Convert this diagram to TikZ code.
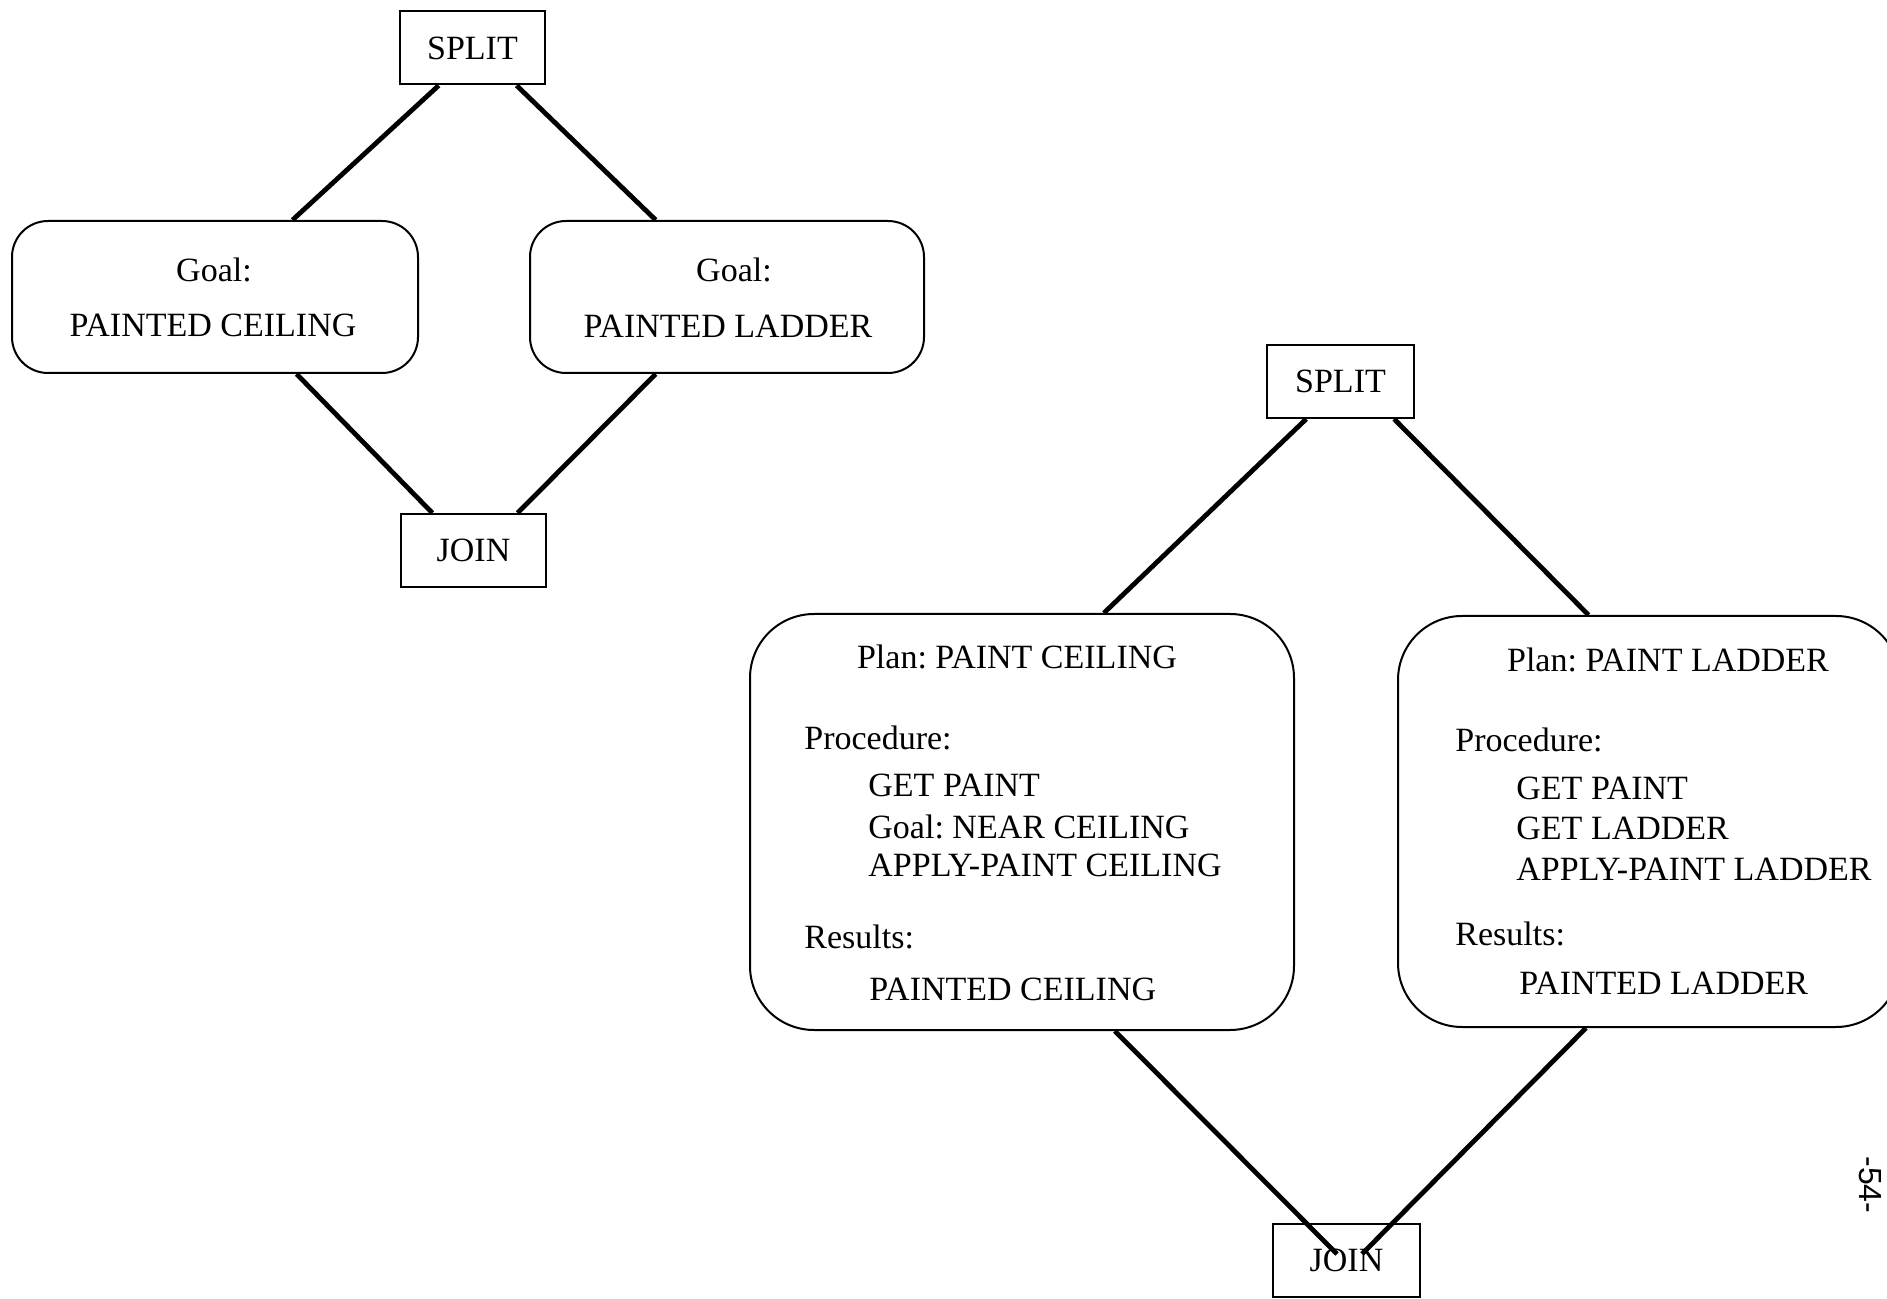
\documentclass[tikz,border=0pt]{standalone}
\usepackage{fontspec}
\setmainfont{Liberation Serif}
\newfontfamily\pagenumfont{Liberation Sans}
\usetikzlibrary{calc}
\frenchspacing
\begin{document}
\begin{tikzpicture}[x=0.5pt,y=-0.5pt,
  box/.style={draw, line width=1pt, inner sep=0pt, font=\fontsize{17}{20}\selectfont},
  termbox/.style={box, minimum width=72.5pt, minimum height=36.5pt},
  goalbox/.style={box, rounded corners=18pt},
  planbox/.style={box, rounded corners=32pt},
  link/.style={line width=2.4pt},
  lbl/.style={font=\fontsize{17}{20}\selectfont, inner sep=0pt, anchor=base},
  lbll/.style={lbl, anchor=base west}]
\clip (0,0) rectangle (1887,1299);

% ---- goal network ----
\node[termbox] (split1) at (472.5,48) {SPLIT};
\node[goalbox, minimum width=203pt, minimum height=76pt] (goal1) at (215,297) {};
\node[goalbox, minimum width=197pt, minimum height=76pt] (goal2) at (727,297) {};
\node[termbox] (join1) at (473.5,550.5) {JOIN};

\node[lbl] (g1a) at (214,282) {Goal:};
\node[lbl] (g1b) at (213,337) {PAINTED CEILING};
\node[lbl] (g2a) at (734,282) {Goal:};
\node[lbl] (g2b) at (728,338) {PAINTED LADDER};

\draw[link] ($(split1.south west)!0.27!(split1.south east)$) -- ($(goal1.north west)!0.69!(goal1.north east)$);
\draw[link] ($(split1.south west)!0.80!(split1.south east)$) -- ($(goal2.north west)!0.32!(goal2.north east)$);
\draw[link] ($(goal1.south west)!0.70!(goal1.south east)$) -- ($(join1.north west)!0.22!(join1.north east)$);
\draw[link] ($(goal2.south west)!0.32!(goal2.south east)$) -- ($(join1.north west)!0.80!(join1.north east)$);

% ---- plan network ----
\node[termbox, minimum width=73.5pt] (split2) at (1340.5,381.5) {SPLIT};
\node[planbox, minimum width=272pt, minimum height=208pt] (plan1) at (1022,822) {};
\node[planbox, minimum width=251pt, minimum height=205.5pt] (plan2) at (1649,821.5) {};
\node[termbox, minimum width=73.5pt] (join2) at (1346.5,1260.5) {JOIN};

\node[lbl]  (p1t) at (1017,669) {Plan: PAINT CEILING};
\node[lbll] (p1p) at (804,749)  {Procedure:};
\node[lbll] (p1s1) at (868,797) {GET PAINT};
\node[lbll] (p1s2) at (868,838) {Goal: NEAR CEILING};
\node[lbll] (p1s3) at (868,877) {APPLY-PAINT CEILING};
\node[lbll] (p1r) at (804,948)  {Results:};
\node[lbll] (p1rr) at (869,1000) {PAINTED CEILING};

\node[lbl]  (p2t) at (1668,672) {Plan: PAINT LADDER};
\node[lbll] (p2p) at (1455,752) {Procedure:};
\node[lbll] (p2s1) at (1516,799) {GET PAINT};
\node[lbll] (p2s2) at (1516,840) {GET LADDER};
\node[lbll] (p2s3) at (1516,880) {APPLY-PAINT LADDER};
\node[lbll] (p2r) at (1455,945) {Results:};
\node[lbll] (p2rr) at (1519,994) {PAINTED LADDER};

\coordinate (j2l) at ($(join2.north west)+(65,31)$);
\coordinate (j2r) at ($(join2.north west)+(90,31)$);

\draw[link] ($(split2.south west)!0.27!(split2.south east)$) -- ($(plan1.north west)!0.65!(plan1.north east)$);
\draw[link] ($(split2.south west)!0.86!(split2.south east)$) -- ($(plan2.north west)!0.38!(plan2.north east)$);
\draw[link] ($(plan1.south west)!0.67!(plan1.south east)$) -- (j2l);
\draw[link] ($(plan2.south west)!0.375!(plan2.south east)$) -- (j2r);

% ---- page number ----
\node[font=\pagenumfont\fontsize{16}{18}\selectfont, rotate=-90, inner sep=0pt] (pagenum) at (1870,1185) {-54-};
\end{tikzpicture}
\end{document}
